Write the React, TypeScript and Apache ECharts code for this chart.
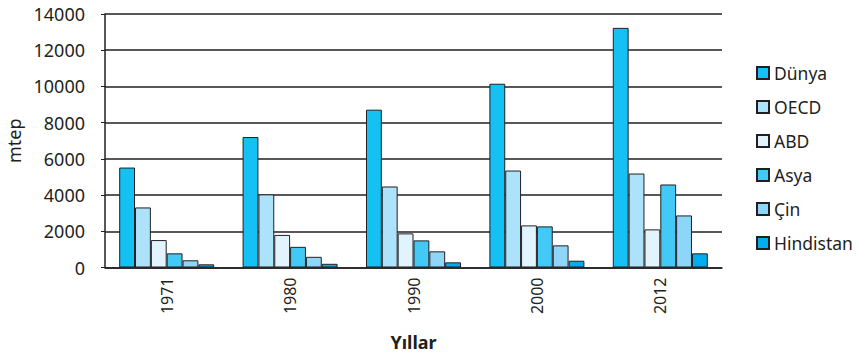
import React, { useEffect, useRef } from "react";
import * as echarts from "echarts";

const years = ["1971", "1980", "1990", "2000", "2012"];
const seriesNames = ["Dünya", "OECD", "ABD", "Asya", "Çin", "Hindistan"];
const dunya = [5520, 7205, 8716, 10149, 13234];
const oecd = [3317, 4040, 4474, 5355, 5190];
const abd = [1515, 1800, 1884, 2325, 2105];
const asya = [782, 1140, 1498, 2270, 4584];
const cin = [397, 590, 892, 1223, 2876];
const hindistan = [176, 204, 286, 375, 782];
const seriesColors = ["#14c1f2", "#ade2fb", "#e1f3fd", "#43c9f6", "#8ed6f8", "#00adef"];

const FONT = "'Noto Sans', 'Open Sans', sans-serif";
const INK = "#231f20";

export default function App() {
  const ref = useRef<HTMLDivElement>(null);
  useEffect(() => {
    document.body.style.margin = "0";
    const chart = echarts.init(ref.current!, null, { renderer: "svg" });
    const values = [dunya, oecd, abd, asya, cin, hindistan];
    chart.setOption({
      animation: false,
      textStyle: { fontFamily: FONT },
      grid: { left: 105, right: 137, top: 14, bottom: 91.5, outerBoundsMode: "none", containLabel: false },
      legend: {
        orient: "vertical",
        left: 756,
        top: 64,
        padding: 0,
        itemWidth: 12,
        itemHeight: 12,
        itemGap: 16,
        icon: "rect",
        textStyle: { fontSize: 17.5, color: INK, fontFamily: FONT, lineHeight: 18 },
        data: seriesNames,
      },
      xAxis: {
        type: "category",
        data: years,
        name: "Yıllar",
        nameLocation: "middle",
        nameGap: 65,
        nameTextStyle: { fontSize: 18, fontWeight: "bold", color: INK, fontFamily: FONT },
        axisLine: { lineStyle: { color: INK, width: 1.5 } },
        axisTick: { show: false },
        axisLabel: { rotate: 90, fontSize: 16, color: INK, margin: 10, fontFamily: FONT },
      },
      yAxis: {
        type: "value",
        min: 0,
        max: 14000,
        interval: 2000,
        name: "mtep",
        nameLocation: "middle",
        nameGap: 80,
        nameTextStyle: { fontSize: 18, color: INK, fontFamily: FONT },
        axisLine: { show: true, lineStyle: { color: INK, width: 1.5 } },
        axisTick: { show: true, inside: false, length: 4, lineStyle: { color: INK } },
        axisLabel: { fontSize: 18, color: INK, margin: 20, fontFamily: FONT, formatter: (v: number) => String(v) },
        splitLine: { show: true, lineStyle: { color: INK, width: 1.5 } },
      },
      series: seriesNames.map((name, i) => ({
        name,
        type: "bar",
        data: values[i],
        barGap: "0%",
        barCategoryGap: "23%",
        itemStyle: { color: seriesColors[i], borderColor: INK, borderWidth: 1 },
      })),
    });
    return () => chart.dispose();
  }, []);
  return <div ref={ref} style={{ width: 859, height: 359 }} />;
}
